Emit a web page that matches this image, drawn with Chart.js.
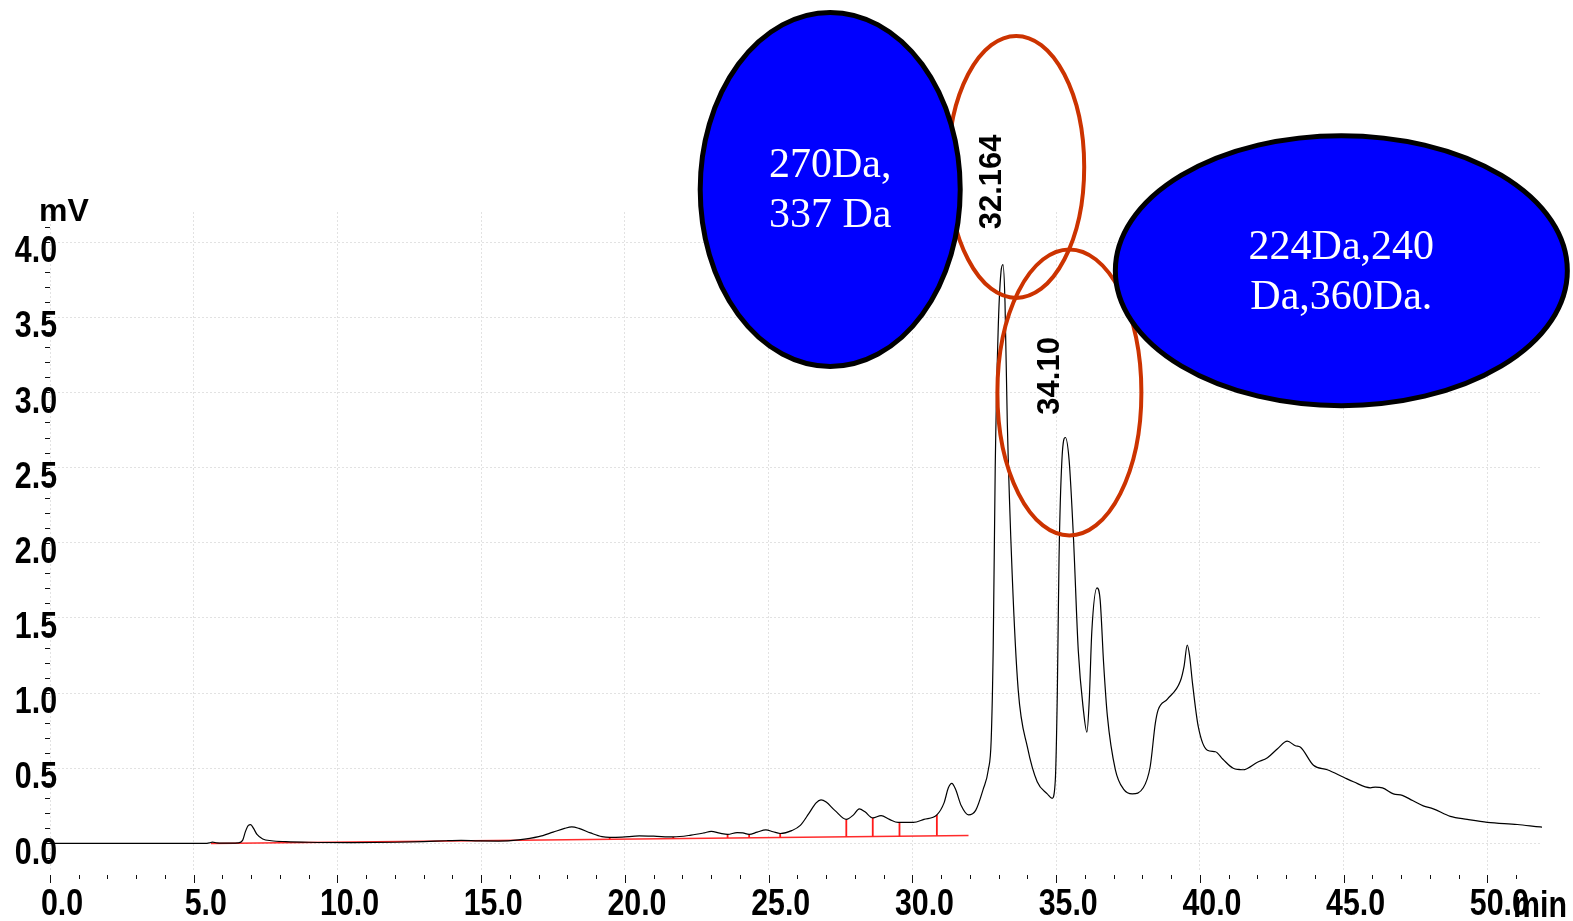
<!DOCTYPE html>
<html>
<head>
<meta charset="utf-8">
<title>Chromatogram</title>
<script src="https://cdn.jsdelivr.net/npm/chart.js@4.4.1/dist/chart.umd.min.js"></script>
<style>
    html, body { margin: 0; padding: 0; background: #fff; }
    canvas { display: block; }
</style>
</head>
<body>
<canvas id="chrom" width="1573" height="921"></canvas>
<script>
// Detector trace (retention time in min, signal in mV)
const timeMin = [
    0.0, 5.4, 5.55, 5.65, 5.8, 6.0, 6.55, 6.7, 6.8, 6.9, 6.98, 7.08, 7.2, 7.4, 7.7, 8.2, 9.0, 10.5,
    12.0, 13.0, 13.8, 14.3, 14.9, 15.6, 16.3, 17.0, 17.5, 17.9, 18.15, 18.4, 18.8, 19.2, 19.47, 19.9,
    20.5, 21.0, 21.68, 22.3, 22.75, 23.0, 23.3, 23.57, 23.9, 24.1, 24.32, 24.6, 24.9, 25.15, 25.4,
    25.8, 26.1, 26.4, 26.65, 26.82, 27.0, 27.3, 27.7, 27.95, 28.15, 28.35, 28.62, 28.91, 29.2, 29.5,
    30.03, 30.4, 30.85, 31.1, 31.25, 31.37, 31.5, 31.7, 31.95, 32.2, 32.46, 32.64, 32.74, 32.81,
    32.88, 32.98, 33.08, 33.15, 33.22, 33.3, 33.47, 33.68, 34.0, 34.34, 34.69, 34.86, 34.97, 35.04,
    35.1, 35.2, 35.32, 35.45, 35.6, 35.77, 35.94, 36.07, 36.15, 36.24, 36.42, 36.53, 36.65, 36.78,
    37.06, 37.35, 37.65, 38.03, 38.27, 38.45, 38.55, 38.87, 39.32, 39.45, 39.56, 39.64, 39.74, 39.94,
    40.26, 40.54, 40.8, 41.16, 41.5, 42.0, 42.35, 42.7, 43.04, 43.32, 43.5, 43.95, 44.43, 45.0,
    45.34, 45.93, 46.1, 46.35, 46.73, 47.04, 47.4, 47.77, 48.12, 48.71, 49.3, 50.0, 51.04, 51.84, 51.9,
];
const signalMv = [
    0.0, 0.0, 0.004, 0.009, 0.004, 0.002, 0.004, 0.02, 0.08, 0.12, 0.125, 0.1, 0.06, 0.03, 0.018, 0.012, 0.008, 0.006,
    0.008, 0.012, 0.018, 0.02, 0.017, 0.016, 0.024, 0.045, 0.075, 0.1, 0.11, 0.1, 0.07, 0.045, 0.04, 0.042,
    0.05, 0.048, 0.043, 0.055, 0.07, 0.08, 0.068, 0.06, 0.072, 0.07, 0.06, 0.075, 0.09, 0.078, 0.066,
    0.085, 0.12, 0.2, 0.27, 0.29, 0.275, 0.22, 0.16, 0.19, 0.23, 0.21, 0.17, 0.185, 0.16, 0.14,
    0.14, 0.16, 0.19, 0.27, 0.37, 0.40, 0.36, 0.25, 0.19, 0.22, 0.36, 0.49, 0.69, 1.3,
    2.5, 3.4, 3.8, 3.85, 3.6, 2.8, 1.79, 1.02, 0.64, 0.41, 0.33, 0.30, 0.42, 1.0,
    1.9, 2.55, 2.7, 2.55, 2.04, 1.28, 0.90, 0.74, 0.95, 1.41, 1.70, 1.62, 1.2, 0.85,
    0.49, 0.36, 0.33, 0.37, 0.51, 0.8, 0.89, 0.96, 1.08, 1.18, 1.32, 1.25, 1.07, 0.78,
    0.62, 0.61, 0.56, 0.50, 0.49, 0.54, 0.57, 0.63, 0.68, 0.65, 0.64, 0.52, 0.49, 0.44,
    0.41, 0.37, 0.375, 0.37, 0.33, 0.32, 0.285, 0.25, 0.23, 0.18, 0.16, 0.14, 0.126, 0.11, 0.109,
];

// integration baseline (red) and the peak drop lines
const baseTime = [5.6, 31.95];
const baseMv = [0.0, 0.053];
const dropTime = [19.47, 21.68, 23.57, 24.32, 25.4, 27.7, 28.62, 29.55, 30.85];
const dropBase = [0.028, 0.032, 0.036, 0.038, 0.040, 0.045, 0.046, 0.048, 0.051];
const dropTop  = [0.040, 0.043, 0.060, 0.060, 0.066, 0.160, 0.170, 0.140, 0.190];

// axes
const xMin = 0, xMax = 51.9, xStep = 5, xMinorStep = 1;
const yMin = -0.19, yMax = 4.2, yStep = 0.5, yMinorStep = 0.1;

// callouts: anchored in data units (min, mV)
const bubbles = [
    { t: 27.14, mv: 4.35, rx: 130, ry: 177, lines: ['270Da,', '337 Da'] },
    { t: 44.92, mv: 3.81, rx: 226, ry: 135, lines: ['224Da,240', 'Da,360Da.'] },
];
const rings = [
    { t: 33.61, mv: 4.50, rx: 68, ry: 131 },
    { t: 35.46, mv: 3.00, rx: 72, ry: 143 },
];
const peakTags = [
    { t: 32.78, mv: 4.40, text: '32.164' },
    { t: 34.79, mv: 3.11, text: '34.10' },
];

const SANS = '"Liberation Sans", Arial, sans-serif';
const SERIF = '"Liberation Serif", "Times New Roman", serif';
const NARROW_X = 0.82;   // the instrument software uses a condensed bold face

const trace = timeMin.map((t, i) => ({ x: t, y: signalMv[i] }));
const baseline = baseTime.map((t, i) => ({ x: t, y: baseMv[i] }));
const drops = [];
dropTime.forEach((t, i) => {
    drops.push({ x: t, y: dropBase[i] }, { x: t, y: dropTop[i] }, { x: t, y: null });
});

function narrowText(ctx, text, x, y, align) {
    ctx.save();
    ctx.translate(x, y);
    ctx.scale(NARROW_X, 1);
    ctx.textAlign = align;
    ctx.fillText(text, 0, 0);
    ctx.restore();
}

const decor = {
    id: 'decor',
    afterDraw(chart) {
        const { ctx, chartArea } = chart;
        const xs = chart.scales.x, ys = chart.scales.y;
        ctx.save();

        // minor/major tick marks below the plot
        ctx.strokeStyle = '#111';
        ctx.lineWidth = 1;
        const nx = Math.round((xMax - xMin) / xMinorStep);
        for (let i = 0; i <= nx; i++) {
            const v = xMin + i * xMinorStep;
            if (v > xMax) break;
            const px = Math.round(xs.getPixelForValue(v)) + 0.5;
            const top = chartArea.bottom + 3;
            ctx.beginPath();
            ctx.moveTo(px, top);
            ctx.lineTo(px, top + (i % 5 === 0 ? 8 : 4));
            ctx.stroke();
        }
        // y ticks, left of axis
        for (let i = -1; i <= 41; i++) {
            const py = Math.round(ys.getPixelForValue(i * yMinorStep)) + 0.5;
            ctx.beginPath();
            ctx.moveTo(chartArea.left - 5, py);
            ctx.lineTo(chartArea.left, py);
            ctx.stroke();
        }

        // tick labels from the scales' own ticks, condensed bold
        ctx.fillStyle = '#000';
        ctx.font = `bold 37px ${SANS}`;
        ctx.textBaseline = 'middle';
        xs.ticks.forEach(tk => narrowText(ctx, tk.value.toFixed(1), xs.getPixelForValue(tk.value) + 12, 905, 'center'));
        ys.ticks.forEach(tk => narrowText(ctx, tk.value.toFixed(1), chartArea.left + 7, ys.getPixelForValue(tk.value) + 10, 'right'));

        // unit labels
        ctx.textBaseline = 'alphabetic';
        narrowText(ctx, 'min', 1540, 917, 'center');
        ctx.font = `bold 32px ${SANS}`;
        ctx.textAlign = 'center';
        ctx.fillText('mV', 64, 221);

        // red rings around the two main peaks
        ctx.strokeStyle = '#cc3300';
        ctx.lineWidth = 4;
        rings.forEach(r => {
            ctx.beginPath();
            ctx.ellipse(xs.getPixelForValue(r.t), ys.getPixelForValue(r.mv), r.rx, r.ry, 0, 0, Math.PI * 2);
            ctx.stroke();
        });

        // blue mass callouts
        bubbles.forEach(b => {
            const cx = xs.getPixelForValue(b.t), cy = ys.getPixelForValue(b.mv);
            ctx.beginPath();
            ctx.ellipse(cx, cy, b.rx, b.ry, 0, 0, Math.PI * 2);
            ctx.fillStyle = '#0000ff';
            ctx.fill();
            ctx.strokeStyle = '#000';
            ctx.lineWidth = 5;
            ctx.stroke();
            ctx.fillStyle = '#fff';
            ctx.font = `42px ${SERIF}`;
            ctx.textAlign = 'center';
            ctx.textBaseline = 'middle';
            b.lines.forEach((line, i) => ctx.fillText(line, cx, cy - 23 + i * 50));
        });

        // retention-time tags, rotated
        ctx.fillStyle = '#000';
        ctx.font = `bold 31px ${SANS}`;
        ctx.textAlign = 'center';
        ctx.textBaseline = 'middle';
        peakTags.forEach(p => {
            ctx.save();
            ctx.translate(xs.getPixelForValue(p.t), ys.getPixelForValue(p.mv));
            ctx.rotate(-Math.PI / 2);
            ctx.fillText(p.text, 0, 0);
            ctx.restore();
        });

        ctx.restore();
    },
};

new Chart(document.getElementById('chrom'), {
    type: 'line',
    data: {
        datasets: [
            {
                data: trace,
                borderColor: '#000',
                borderWidth: 1.2,
                pointRadius: 0,
                cubicInterpolationMode: 'monotone',
            },
            {
                data: drops,
                borderColor: '#ff1a1a',
                borderWidth: 1.8,
                pointRadius: 0,
                spanGaps: false,
            },
            {
                data: baseline,
                borderColor: 'rgba(255, 20, 20, 0.9)',
                borderWidth: 1.6,
                pointRadius: 0,
            },
        ],
    },
    options: {
        responsive: false,
        animation: false,
        devicePixelRatio: 1,
        parsing: false,
        layout: { padding: { top: 212, right: 31, left: 0, bottom: 0 } },
        plugins: { legend: { display: false }, tooltip: { enabled: false } },
        scales: {
            x: {
                type: 'linear',
                min: xMin, max: xMax,
                afterFit: s => { s.height = 49; },
                ticks: { stepSize: xStep, includeBounds: false, autoSkip: false, display: false },
                grid: { color: '#e2e2e2', lineWidth: 1, drawTicks: false },
                border: { display: false, dash: [2, 2] },
            },
            y: {
                min: yMin, max: yMax,
                afterFit: s => { s.width = 50; },
                ticks: { stepSize: yStep, includeBounds: false, display: false },
                grid: { color: '#e2e2e2', lineWidth: 1, drawTicks: false },
                border: { display: false, dash: [2, 2] },
            },
        },
    },
    plugins: [decor],
});
</script>
</body>
</html>
